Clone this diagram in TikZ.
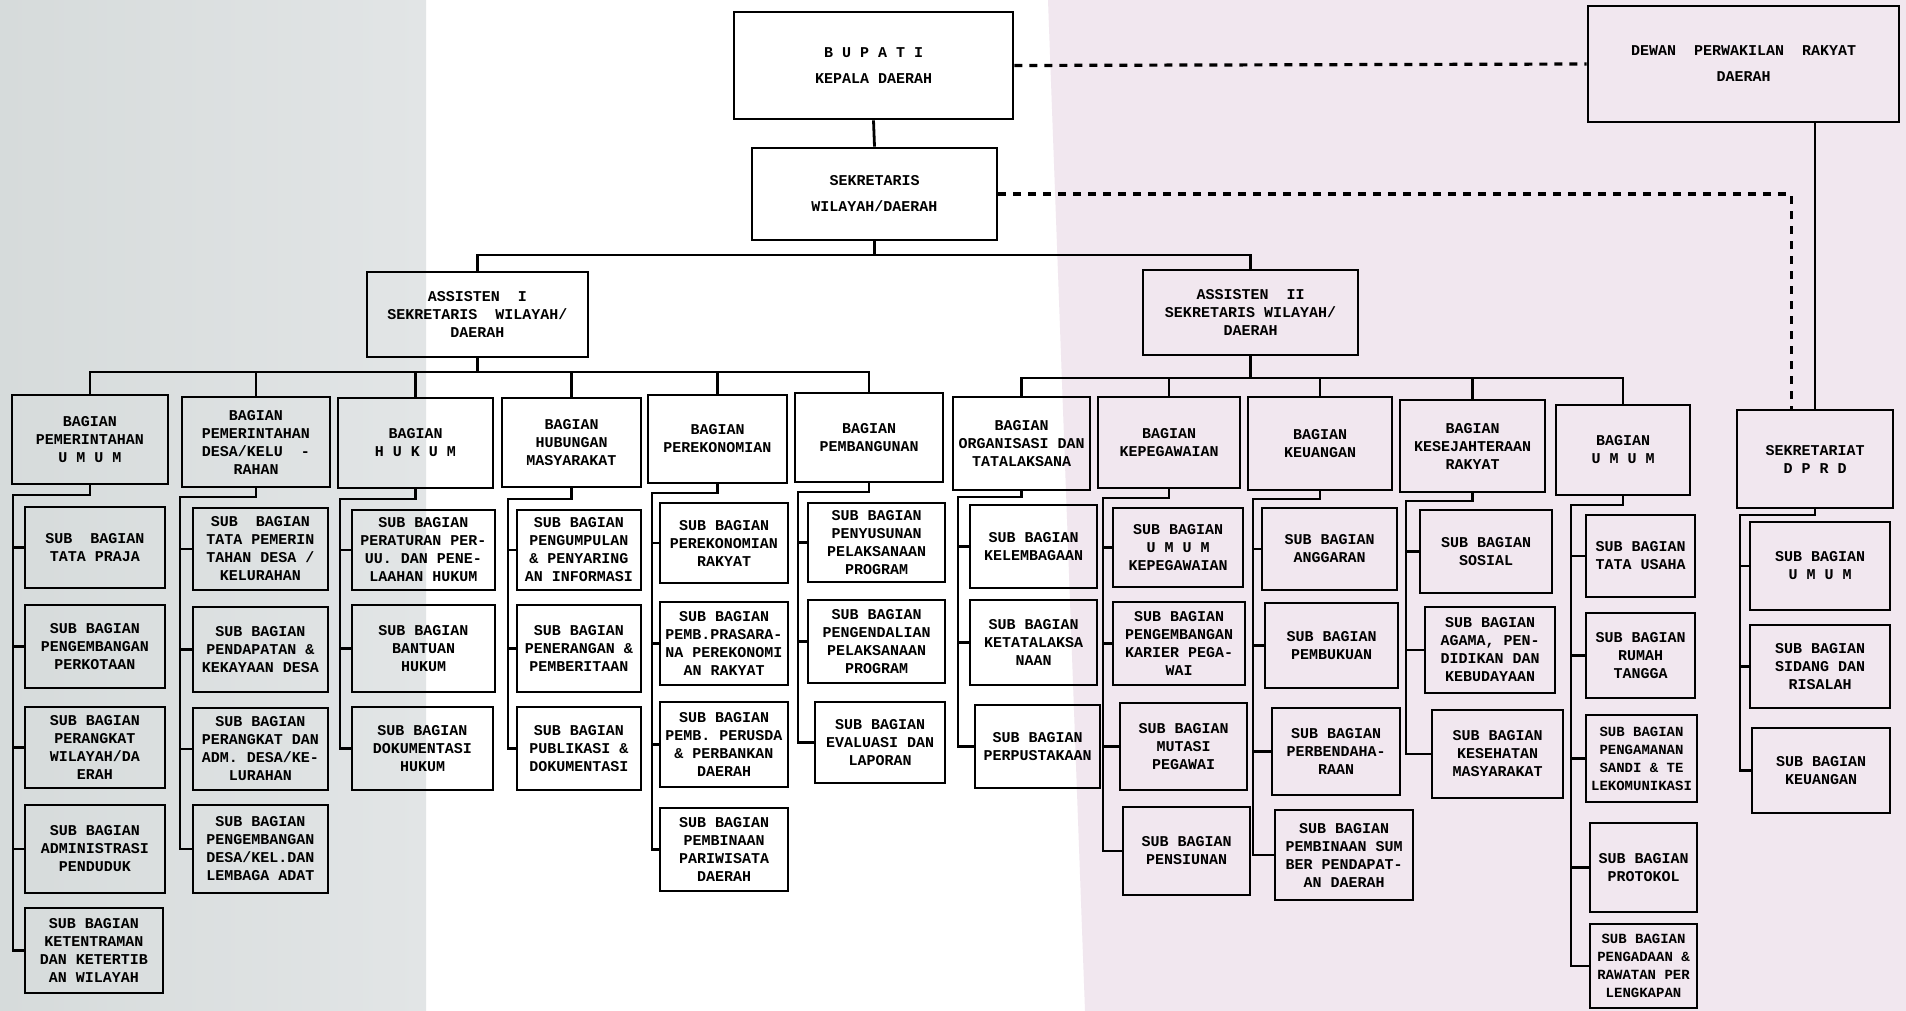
\documentclass[tikz,border=0pt]{standalone}
\usepackage{fontspec}
\setmonofont{Liberation Mono}
\usetikzlibrary{calc}
\definecolor{scangray}{RGB}{214,219,219}
\definecolor{scangrayB}{RGB}{226,229,230}
\definecolor{scanpink}{RGB}{241,231,239}
\tikzset{
  box/.style={draw=black, line width=1.4pt, inner sep=1pt, align=center,
    font=\ttfamily\bfseries\fontsize{7.5}{9}\selectfont},
  smallbox/.style={font=\ttfamily\bfseries\fontsize{7}{9}\selectfont},
  ln/.style={line width=1.4pt},
  dotl/.style={line width=1.6pt, dash pattern=on 4pt off 3.5pt},
}
\newcommand\bx[7][]{\node[box,#1,minimum width={(#5-#3)*0.5pt},minimum height={(#6-#4)*0.5pt}] (#2) at ({(#3+#5)/2},{(#4+#6)/2}) {#7};}
\newcommand\spine[4]{\coordinate (sp#1) at (#2,#3);
  \draw[ln] (#1.south) |- (sp#1) -- (sp#1 |- #4.west) -- (#4.west);}
\newcommand\ticks[2]{\foreach \s in {#2} {\draw[ln] (sp#1 |- \s.west) -- (\s.west);}}
\begin{document}
\begin{tikzpicture}[x=0.5pt,y=-0.5pt]
\useasboundingbox (0,0) rectangle (1906,1011);
\fill[white] (0,0) rectangle (1906,1011);
\fill[left color=scangray, right color=scangrayB] (0,0) rectangle (426,1011);
\fill[scanpink] (1048,0) -- (1906,0) -- (1906,1011) -- (1085,1011) -- cycle;

% top level
\bx{bupati}{734}{12}{1013}{119}{B U P A T I\\[4pt]KEPALA DAERAH}
\bx{sekr}{752}{148}{997}{240}{SEKRETARIS\\[4pt]WILAYAH/DAERAH}
\bx{dprd}{1588}{6}{1899}{122}{DEWAN \ PERWAKILAN \ RAKYAT\\[4pt]DAERAH}
\bx{a1}{367}{272}{588}{357}{ASSISTEN \ I\\SEKRETARIS \ WILAYAH/\\DAERAH}
\bx{a2}{1143}{270}{1358}{355}{ASSISTEN \ II\\SEKRETARIS WILAYAH/\\DAERAH}

% bagian
\bx{b1}{12}{395}{168}{484}{BAGIAN\\PEMERINTAHAN\\U M U M}
\bx{b2}{182}{397}{330}{487}{BAGIAN\\PEMERINTAHAN\\DESA/KELU \ -\\RAHAN}
\bx{b3}{338}{398}{493}{488}{BAGIAN\\H U K U M}
\bx{b4}{502}{398}{641}{487}{BAGIAN\\HUBUNGAN\\MASYARAKAT}
\bx{b5}{648}{395}{787}{483}{BAGIAN\\PEREKONOMIAN}
\bx{b6}{795}{393}{943}{482}{BAGIAN\\PEMBANGUNAN}
\bx{b7}{953}{397}{1090}{490}{BAGIAN\\ORGANISASI DAN\\TATALAKSANA}
\bx{b8}{1098}{397}{1240}{488}{BAGIAN\\KEPEGAWAIAN}
\bx{b9}{1248}{397}{1392}{490}{BAGIAN\\KEUANGAN}
\bx{b10}{1400}{400}{1545}{492}{BAGIAN\\KESEJAHTERAAN\\RAKYAT}
\bx{b11}{1556}{405}{1690}{495}{BAGIAN\\U M U M}
\bx{b12}{1737}{410}{1893}{508}{SEKRETARIAT\\D P R D}

% column 1
\bx{s11}{25}{507}{165}{588}{SUB \ BAGIAN\\TATA PRAJA}
\bx{s12}{25}{605}{165}{688}{SUB BAGIAN\\PENGEMBANGAN\\PERKOTAAN}
\bx{s13}{25}{707}{165}{788}{SUB BAGIAN\\PERANGKAT\\WILAYAH/DA\\ERAH}
\bx{s14}{25}{805}{165}{893}{SUB BAGIAN\\ADMINISTRASI\\PENDUDUK}
\bx{s15}{25}{908}{163}{993}{SUB BAGIAN\\KETENTRAMAN\\DAN KETERTIB\\AN WILAYAH}
% column 2
\bx{s21}{193}{508}{328}{590}{SUB \ BAGIAN\\TATA PEMERIN\\TAHAN DESA /\\KELURAHAN}
\bx{s22}{193}{607}{328}{692}{SUB BAGIAN\\PENDAPATAN \&\\KEKAYAAN DESA}
\bx{s23}{193}{708}{328}{790}{SUB BAGIAN\\PERANGKAT DAN\\ADM. DESA/KE-\\LURAHAN}
\bx{s24}{193}{805}{328}{893}{SUB BAGIAN\\PENGEMBANGAN\\DESA/KEL.DAN\\LEMBAGA ADAT}
% column 3
\bx{s31}{352}{510}{495}{590}{SUB BAGIAN\\PERATURAN PER-\\UU. DAN PENE-\\LAAHAN HUKUM}
\bx{s32}{352}{605}{495}{692}{SUB BAGIAN\\BANTUAN\\HUKUM}
\bx{s33}{352}{707}{493}{790}{SUB BAGIAN\\DOKUMENTASI\\HUKUM}
% column 4
\bx{s41}{517}{510}{641}{590}{SUB BAGIAN\\PENGUMPULAN\\\& PENYARING\\AN INFORMASI}
\bx{s42}{517}{605}{641}{692}{SUB BAGIAN\\PENERANGAN \&\\PEMBERITAAN}
\bx{s43}{517}{707}{641}{790}{SUB BAGIAN\\PUBLIKASI \&\\DOKUMENTASI}
% column 5
\bx{s51}{660}{503}{788}{583}{SUB BAGIAN\\PEREKONOMIAN\\RAKYAT}
\bx{s52}{660}{602}{788}{685}{SUB BAGIAN\\PEMB.PRASARA-\\NA PEREKONOMI\\AN RAKYAT}
\bx{s53}{660}{702}{788}{787}{SUB BAGIAN\\PEMB. PERUSDA\\\& PERBANKAN\\DAERAH}
\bx{s54}{660}{808}{788}{891}{SUB BAGIAN\\PEMBINAAN\\PARIWISATA\\DAERAH}
% column 6
\bx{s61}{808}{503}{945}{582}{SUB BAGIAN\\PENYUSUNAN\\PELAKSANAAN\\PROGRAM}
\bx{s62}{808}{600}{945}{683}{SUB BAGIAN\\PENGENDALIAN\\PELAKSANAAN\\PROGRAM}
\bx{s63}{815}{702}{945}{783}{SUB BAGIAN\\EVALUASI DAN\\LAPORAN}
% column 7
\bx{s71}{970}{505}{1097}{588}{SUB BAGIAN\\KELEMBAGAAN}
\bx{s72}{970}{600}{1097}{685}{SUB BAGIAN\\KETATALAKSA\\NAAN}
\bx{s73}{975}{705}{1100}{788}{SUB BAGIAN\\PERPUSTAKAAN}
% column 8
\bx{s81}{1113}{508}{1243}{587}{SUB BAGIAN\\U M U M\\KEPEGAWAIAN}
\bx{s82}{1113}{602}{1245}{685}{SUB BAGIAN\\PENGEMBANGAN\\KARIER PEGA-\\WAI}
\bx{s83}{1120}{703}{1247}{790}{SUB BAGIAN\\MUTASI\\PEGAWAI}
\bx{s84}{1123}{807}{1250}{895}{SUB BAGIAN\\PENSIUNAN}
% column 9
\bx{s91}{1262}{508}{1397}{590}{SUB BAGIAN\\ANGGARAN}
\bx{s92}{1265}{603}{1398}{688}{SUB BAGIAN\\PEMBUKUAN}
\bx{s93}{1272}{708}{1400}{795}{SUB BAGIAN\\PERBENDAHA-\\RAAN}
\bx{s94}{1275}{810}{1413}{900}{SUB BAGIAN\\PEMBINAAN SUM\\BER PENDAPAT-\\AN DAERAH}
% column 10
\bx{s101}{1420}{510}{1552}{593}{SUB BAGIAN\\SOSIAL}
\bx{s102}{1425}{607}{1555}{693}{SUB BAGIAN\\AGAMA, PEN-\\DIDIKAN DAN\\KEBUDAYAAN}
\bx{s103}{1432}{710}{1563}{798}{SUB BAGIAN\\KESEHATAN\\MASYARAKAT}
% column 11
\bx{s111}{1586}{515}{1695}{597}{SUB BAGIAN\\TATA USAHA}
\bx{s112}{1586}{613}{1695}{698}{SUB BAGIAN\\RUMAH\\TANGGA}
\bx[smallbox]{s113}{1586}{715}{1697}{802}{SUB BAGIAN\\PENGAMANAN\\SANDI \& TE\\LEKOMUNIKASI}
\bx{s114}{1590}{823}{1697}{912}{SUB BAGIAN\\PROTOKOL}
\bx[smallbox]{s115}{1590}{924}{1697}{1008}{SUB BAGIAN\\PENGADAAN \&\\RAWATAN PER\\LENGKAPAN}
% column 12
\bx{s121}{1750}{522}{1890}{610}{SUB BAGIAN\\U M U M}
\bx{s122}{1750}{625}{1890}{708}{SUB BAGIAN\\SIDANG DAN\\RISALAH}
\bx{s123}{1752}{728}{1890}{813}{SUB BAGIAN\\KEUANGAN}

% top connectors
\coordinate (tb) at (874,255);
\draw[ln] (bupati.south) -- (sekr.north);
\draw[ln] (sekr.south) -- (sekr.south |- tb);
\draw[ln] (a1.north) |- (tb) -| (a2.north);
\draw[dotl] (bupati.east) -- (dprd.west);
\coordinate (dd) at ($(b12.north west)!0.35!(b12.north east)$);
\draw[dotl] (sekr.east) -| (dd);
\draw[ln] (b12.north) -- (b12.north |- dprd.south);

% assisten bars
\coordinate (bar1) at (0,372);
\coordinate (bar2) at (0,378);
\draw[ln] (a1.south) -- (a1.south |- bar1);
\draw[ln] (b1.north) |- (b6.north |- bar1) -- (b6.north);
\foreach \b in {b2,b3,b4,b5} {\draw[ln] (\b.north) -- (\b.north |- bar1);}
\draw[ln] (a2.south) -- (a2.south |- bar2);
\draw[ln] (b7.north) |- (b11.north |- bar2) -- (b11.north);
\foreach \b in {b8,b9,b10} {\draw[ln] (\b.north) -- (\b.north |- bar2);}

% spines
\spine{b1}{13}{495}{s15}   \ticks{b1}{s11,s12,s13,s14}
\spine{b2}{180}{497}{s24}  \ticks{b2}{s21,s22,s23}
\spine{b3}{340}{499}{s33}  \ticks{b3}{s31,s32}
\spine{b4}{508}{499}{s43}  \ticks{b4}{s41,s42}
\spine{b5}{652}{493}{s54}  \ticks{b5}{s51,s52,s53}
\spine{b6}{798}{492}{s63}  \ticks{b6}{s61,s62}
\spine{b7}{958}{497}{s73}  \ticks{b7}{s71,s72}
\spine{b8}{1103}{498}{s84} \ticks{b8}{s81,s82,s83}
\spine{b9}{1253}{499}{s94} \ticks{b9}{s91,s92,s93}
\spine{b10}{1406}{501}{s103} \ticks{b10}{s101,s102}
\spine{b11}{1571}{505}{s115} \ticks{b11}{s111,s112,s113,s114}
\spine{b12}{1740}{515}{s123} \ticks{b12}{s121,s122}
\end{tikzpicture}
\end{document}
